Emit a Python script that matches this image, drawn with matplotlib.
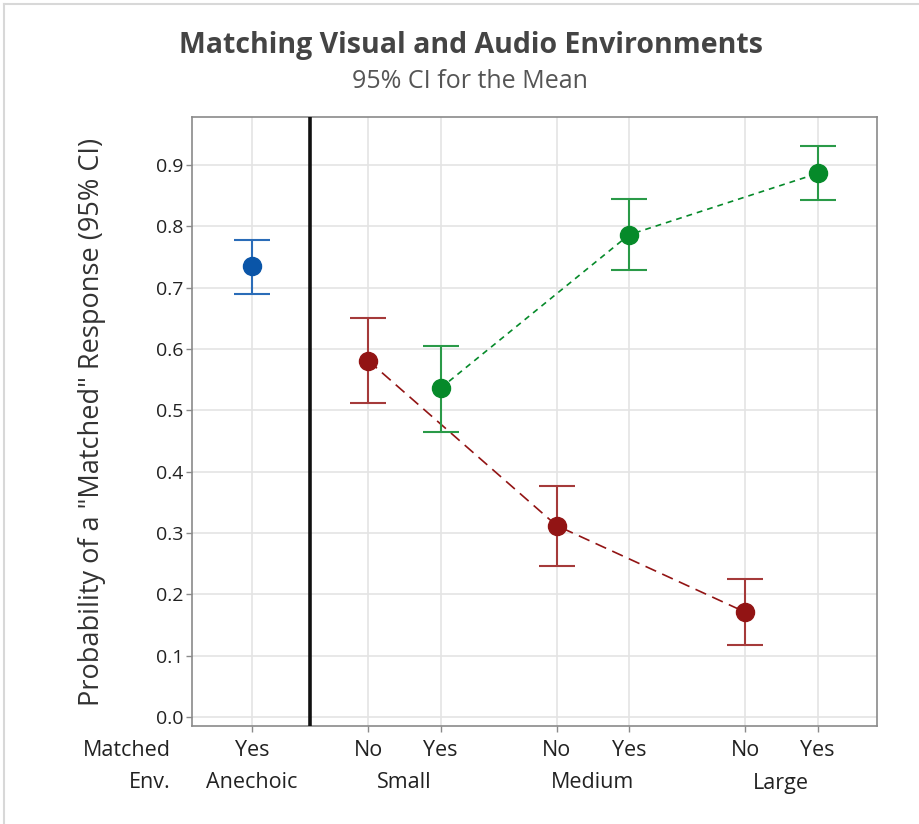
import numpy as np
import matplotlib
matplotlib.use("Agg")
from matplotlib import pyplot as plt
from matplotlib.lines import Line2D

plt.rcParams['font.family'] = ['Open Sans', 'DejaVu Sans']

# data
env = ["Anechoic", "Small", "Medium", "Large"]
matched = ["Yes", "No", "Yes", "No", "Yes", "No", "Yes"]
env_of = ["Anechoic", "Small", "Small", "Medium", "Medium", "Large", "Large"]
means = [0.735, 0.581, 0.536, 0.312, 0.786, 0.171, 0.886]
upper = [0.777, 0.651, 0.605, 0.376, 0.845, 0.225, 0.931]
lower = [0.690, 0.512, 0.465, 0.246, 0.729, 0.117, 0.842]

# x slots: groups spaced wider than the pair inside a group
xpos = np.array([0, 1.6, 2.6, 4.2, 5.2, 6.8, 7.8])
blue = "#0a55a8"
red = "#921414"
green = "#068a2a"
cols = [blue, red, green, red, green, red, green]
bar_cols = ["#2a6cb8", "#a53a3a", "#2a9a48", "#a53a3a", "#2a9a48", "#a53a3a", "#2a9a48"]

fig = plt.figure(figsize=(9.2, 8.24), dpi=100)
ax = fig.add_axes([192/920, 1-726/824, (877-192)/920, (726-117)/824])

means = np.array(means)
upper = np.array(upper)
lower = np.array(lower)

# dashed connection lines
no_idx = [1, 3, 5]
yes_idx = [2, 4, 6]
ax.plot(xpos[no_idx], means[no_idx], color=red, lw=1.2, dashes=(7, 4), zorder=2)
ax.plot(xpos[yes_idx], means[yes_idx], color=green, lw=1.2, dashes=(3.5, 3), zorder=2)

for i in range(len(xpos)):
	ax.errorbar(xpos[i], means[i], yerr=[[means[i]-lower[i]], [upper[i]-means[i]]],
		fmt="none", ecolor=bar_cols[i], elinewidth=1.5, capsize=13, capthick=1.5, zorder=3)
	ax.plot(xpos[i], means[i], "o", color=cols[i], markersize=13, zorder=4)

ax.axvline(0.8, color="#111111", lw=2.6, zorder=5)

ax.set_xlim(-0.83, 8.62)
ax.set_ylim(-0.0147, 0.978)
ax.set_yticks(np.arange(0, 1.0, 0.1))
ax.set_yticklabels(["%.1f" % v for v in np.arange(0, 1.0, 0.1)], fontsize=14, color="#222222")
ax.set_xticks(xpos)
ax.set_xticklabels([])
ax.grid(True, color="#e4e4e4", lw=1.2, zorder=0)
ax.set_axisbelow(True)
for s in ax.spines.values():
	s.set_color("#8a8a8a")
	s.set_linewidth(1.2)
ax.tick_params(axis="both", color="#8a8a8a", length=4, width=1, pad=2)

ax.set_ylabel('Probability of a "Matched" Response (95% CI)', fontsize=19.5, color="#333333", labelpad=36)

# two-row category labels under the axis
for i in range(len(xpos)):
	ax.annotate(matched[i], xy=(xpos[i], 0), xycoords=("data", "axes fraction"),
		xytext=(0, -24), textcoords="offset pixels", ha="center", va="center", fontsize=15.5, color="#222222")
group_x = [0, (xpos[1]+xpos[2])/2, (xpos[3]+xpos[4])/2, (xpos[5]+xpos[6])/2]
for g in range(len(env)):
	ax.annotate(env[g], xy=(group_x[g], 0), xycoords=("data", "axes fraction"),
		xytext=(0, -57), textcoords="offset pixels", ha="center", va="center", fontsize=15.5, color="#222222")
fig.text(171/920, 1-750/824, "Matched", ha="right", va="center", fontsize=15.5, color="#222222")
fig.text(171/920, 1-783/824, "Env.", ha="right", va="center", fontsize=15.5, color="#222222")

fig.text(471/920, 1-46/824, "Matching Visual and Audio Environments", ha="center", va="center",
	fontsize=20.5, fontweight="bold", color="#444444")
fig.text(470/920, 1-81/824, "95% CI for the Mean", ha="center", va="center", fontsize=18, color="#555555")

# window border
fig.add_artist(Line2D([4/920, 1], [1-4/824, 1-4/824], transform=fig.transFigure, color="#d8d8d8", lw=1.5))
fig.add_artist(Line2D([4/920, 4/920], [0, 1-4/824], transform=fig.transFigure, color="#d8d8d8", lw=1.5))

fig.savefig("out.png", dpi=100)
